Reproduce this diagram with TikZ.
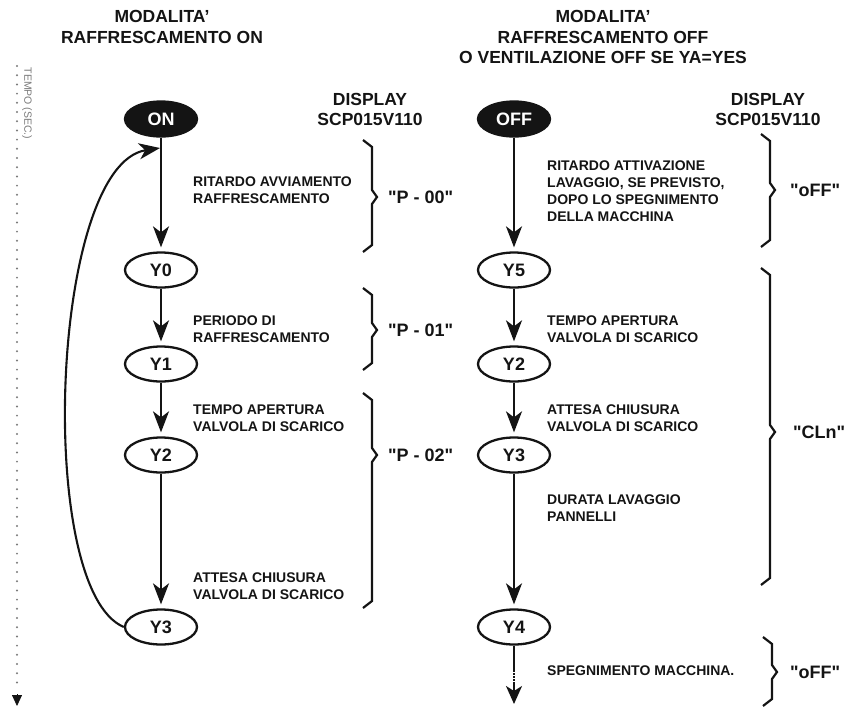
\documentclass[tikz,border=0pt]{standalone}
\usepackage{fontspec}
\setmainfont{Liberation Sans}[Ligatures=TeXOff]
\usetikzlibrary{arrows.meta,shapes.geometric}

\definecolor{ink}{HTML}{141414}
\definecolor{axisgray}{HTML}{7A7A7A}

\tikzset{
  state/.style={ellipse, draw=ink, line width=2.3pt, minimum width=72pt,
    minimum height=35pt, inner sep=0pt, text=ink,
    font=\fontsize{18}{18}\selectfont\bfseries},
  startstate/.style={state, fill=ink, text=white},
  flow/.style={draw=ink, line width=2.1pt,
    -{Stealth[length=21pt,width=16pt,inset=6pt]}, shorten >=4pt},
  loopflow/.style={draw=ink, line width=2.1pt,
    -{Stealth[length=21pt,width=16pt,inset=6pt]}},
  note/.style={anchor=north west, inner sep=0pt, align=left, text=ink,
    font=\fontsize{14}{17}\selectfont\bfseries},
  title/.style={anchor=north, inner sep=0pt, align=center, text=ink,
    font=\fontsize{17.5}{20.5}\selectfont\bfseries},
  disptitle/.style={title, font=\fontsize{17.5}{19.5}\selectfont\bfseries},
  code/.style={anchor=west, inner sep=0pt, text=ink,
    font=\fontsize{18}{18}\selectfont\bfseries},
  bracket/.style={draw=ink, line width=2.2pt, line join=miter},
}

% curly bracket drawn as a polyline: tip x, top y, point y, bottom y
\newcommand\sidebrace[4]{%
  \draw[bracket] (#1,#2) -- ({#1+9},{#2+7}) -- ({#1+9},{#3-7})
    -- ({#1+14},#3) -- ({#1+9},{#3+7}) -- ({#1+9},{#4-7}) -- (#1,#4);}

\begin{document}
\begin{tikzpicture}[x=1pt, y=-1pt]
\useasboundingbox (0,0) rectangle (848,707);

% ---------- time axis ----------
\coordinate (tTop) at (17,66);
\coordinate (tDots) at (17,690);
\coordinate (tHead) at (17,694);
\coordinate (tEnd) at (17,706);
\draw[axisgray, line width=2.2pt, line cap=round, dash pattern=on 0pt off 9.2pt]
  (tTop) -- (tDots);
\draw[ink, line width=0.8pt, -{Triangle[length=11pt,width=10pt]}] (tHead) -- (tEnd);
\node[rotate=-90, inner sep=0pt, text=axisgray,
  font=\fontsize{10.5}{10.5}\selectfont] (tLabel) at (27,103.5) {TEMPO (SEC.)};

% ---------- titles ----------
\node[title] (titleL) at (162,10.5) {MODALITA’\\RAFFRESCAMENTO ON};
\node[title] (titleR) at (603,10.5)
  {MODALITA’\\RAFFRESCAMENTO OFF\\O VENTILAZIONE OFF SE YA=YES};
\node[disptitle] (dispL) at (370,93.5) {DISPLAY\\SCP015V110};
\node[disptitle] (dispR) at (768,93.5) {DISPLAY\\SCP015V110};

% ---------- cooling ON sequence ----------
\node[startstate] (on) at (161,119) {ON};
\node[state] (lY0) at (161,270) {Y0};
\node[state] (lY1) at (161,364) {Y1};
\node[state] (lY2) at (161,455) {Y2};
\node[state] (lY3) at (161,627) {Y3};

\draw[flow] (on) -- (lY0);
\draw[flow] (lY0) -- (lY1);
\draw[flow] (lY1) -- (lY2);
\draw[flow] (lY2) -- (lY3);
\coordinate (loopEnd) at (160,148);
\draw[loopflow] (lY3.west) .. controls (35,590) and (50,165) .. (loopEnd);

\node[note] (nL1) at (193,177) {RITARDO AVVIAMENTO\\RAFFRESCAMENTO};
\node[note] (nL2) at (193,316) {PERIODO DI\\RAFFRESCAMENTO};
\node[note] (nL3) at (193,405) {TEMPO APERTURA\\VALVOLA DI SCARICO};
\node[note] (nL4) at (193,573) {ATTESA CHIUSURA\\VALVOLA DI SCARICO};

\sidebrace{363}{140}{197}{252}
\sidebrace{363}{288}{330}{370}
\sidebrace{363}{393}{455}{608}
\node[code] (cL1) at (388,197) {"P - 00"};
\node[code] (cL2) at (388,330) {"P - 01"};
\node[code] (cL3) at (388,455) {"P - 02"};

% ---------- cooling OFF sequence ----------
\node[startstate] (off) at (514,119) {OFF};
\node[state] (rY5) at (514,270) {Y5};
\node[state] (rY2) at (514,364) {Y2};
\node[state] (rY3) at (514,455) {Y3};
\node[state] (rY4) at (514,627) {Y4};

\draw[flow] (off) -- (rY5);
\draw[flow] (rY5) -- (rY2);
\draw[flow] (rY2) -- (rY3);
\draw[flow] (rY3) -- (rY4);

\coordinate (rSolid) at (514,670);
\coordinate (rDots) at (514,688);
\coordinate (rHead) at (514,684);
\coordinate (rEnd) at (514,704);
\draw[ink, line width=2.1pt] (rY4.south) -- (rSolid);
\draw[ink, line width=2.1pt, dash pattern=on 1.5pt off 1.5pt] (rSolid) -- (rDots);
\draw[ink, line width=2.1pt, -{Stealth[length=18pt,width=16pt,inset=5pt]}] (rHead) -- (rEnd);

\node[note] (nR1) at (547,161)
  {RITARDO ATTIVAZIONE\\LAVAGGIO, SE PREVISTO,\\DOPO LO SPEGNIMENTO\\DELLA MACCHINA};
\node[note] (nR2) at (547,316) {TEMPO APERTURA\\VALVOLA DI SCARICO};
\node[note] (nR3) at (547,405) {ATTESA CHIUSURA\\VALVOLA DI SCARICO};
\node[note] (nR4) at (547,495) {DURATA LAVAGGIO\\PANNELLI};
\node[note, anchor=west] (nR5) at (547,671) {SPEGNIMENTO MACCHINA.};

\sidebrace{761}{134}{190}{247}
\sidebrace{761}{268}{432}{585}
\sidebrace{763}{637}{672}{706}
\node[code] (cR1) at (790,190) {"oFF"};
\node[code] (cR2) at (793,432) {"CLn"};
\node[code] (cR3) at (790,672) {"oFF"};
\end{tikzpicture}
\end{document}
